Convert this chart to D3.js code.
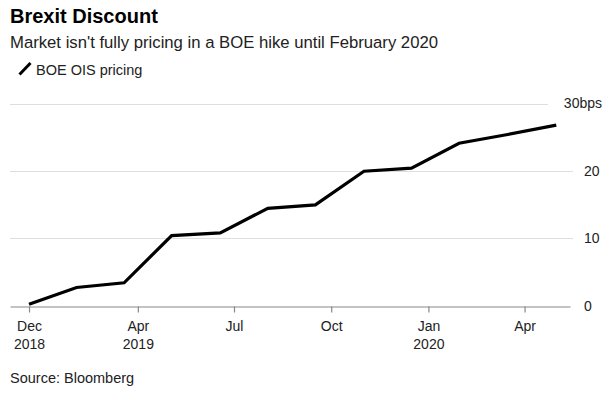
<!DOCTYPE html>
<html>
<head>
<meta charset="utf-8">
<script src="https://cdn.jsdelivr.net/npm/d3@7"></script>
<style>
  body { margin: 0; background: #fff; }
  svg { display: block; font-family: "Liberation Sans", Arial, sans-serif; }
</style>
</head>
<body>
<svg id="chart" width="606" height="393"></svg>
<script>
// ---- data ----
const dates = ["2018-12-19","2019-02-02","2019-03-19","2019-05-03","2019-06-18","2019-08-02",
               "2019-09-16","2019-11-01","2019-12-16","2020-01-30","2020-03-16","2020-05-01"];
const values = [0.2, 2.7, 3.4, 10.4, 10.8, 14.45, 14.95, 19.95, 20.4, 24.1, 25.4, 26.8];
const xTickDates = ["2018-12-19","2019-04-01","2019-07-01","2019-10-01","2020-01-01","2020-04-01"];
const xTickMonths = ["Dec","Apr","Jul","Oct","Jan","Apr"];
const xTickYears = ["2018","2019","","","2020",""];
const yTicks = [0, 10, 20, 30];
const yTickLabels = ["0", "10", "20", "30bps"];
const seriesName = "BOE OIS pricing";
const title = "Brexit Discount";
const subtitle = "Market isn't fully pricing in a BOE hike until February 2020";
const source = "Source: Bloomberg";

const parse = d3.timeParse("%Y-%m-%d");
const data = dates.map((d, i) => ({ date: parse(d), value: values[i] }));

const svg = d3.select("#chart");

const x = d3.scaleTime()
  .domain([parse("2018-12-01"), parse("2020-05-14")])
  .range([10, 570]);
const y = d3.scaleLinear().domain([0, 30]).range([305.7, 103.5]);

// titles
svg.append("text").attr("x", 10).attr("y", 23)
  .attr("font-size", 20).attr("font-weight", "bold").attr("fill", "#000").text(title);
svg.append("text").attr("x", 10).attr("y", 48)
  .attr("font-size", 16.7).attr("fill", "#222").text(subtitle);

// legend
svg.append("line").attr("x1", 19.5).attr("y1", 74.5).attr("x2", 30.5).attr("y2", 63)
  .attr("stroke", "#000").attr("stroke-width", 3);
svg.append("text").attr("x", 36).attr("y", 74.5)
  .attr("font-size", 14.5).attr("fill", "#222").text(seriesName);

// gridlines
svg.append("g").selectAll("line").data(yTicks.filter(d => d !== 0)).join("line")
  .attr("x1", 10)
  .attr("x2", d => d === 30 ? 548 : 573)
  .attr("y1", d => Math.round(y(d)) + 0.5)
  .attr("y2", d => Math.round(y(d)) + 0.5)
  .attr("stroke", "#dedede").attr("stroke-width", 1.2);

// y labels
svg.append("g").selectAll("text").data(yTicks).join("text")
  .attr("x", d => d === 30 ? 602 : 584)
  .attr("text-anchor", d => d === 30 ? "end" : "start")
  .attr("y", d => y(d))
  .attr("dy", "0.35em")
  .attr("font-size", 14).attr("fill", "#222")
  .text((d, i) => yTickLabels[i]);

// x axis
const xAxis = d3.axisBottom(x)
  .tickValues(xTickDates.map(parse))
  .tickFormat((d, i) => xTickMonths[i])
  .tickSize(6)
  .tickPadding(9)
  .tickSizeOuter(0);

const gx = svg.append("g").attr("transform", `translate(0,${Math.round(y(0)) + 0.5})`).call(xAxis);
gx.select(".domain").attr("stroke", "#888").attr("stroke-width", 1.2);
gx.selectAll(".tick line").attr("stroke", "#888").attr("stroke-width", 1.2);
gx.selectAll(".tick text")
  .attr("font-size", 14).attr("fill", "#222")
  .attr("font-family", "'Liberation Sans', Arial, sans-serif")
  .each(function(d, i) {
    if (xTickYears[i]) {
      d3.select(this).append("tspan").attr("x", 0).attr("dy", "1.28em").text(xTickYears[i]);
    }
  });

// line
const line = d3.line().x(d => x(d.date)).y(d => y(d.value));
svg.append("path").datum(data)
  .attr("d", line)
  .attr("fill", "none").attr("stroke", "#000").attr("stroke-width", 3.2)
  .attr("stroke-linejoin", "miter").attr("stroke-linecap", "butt");

// source
svg.append("text").attr("x", 10).attr("y", 383)
  .attr("font-size", 14.5).attr("fill", "#222").text(source);
</script>
</body>
</html>
